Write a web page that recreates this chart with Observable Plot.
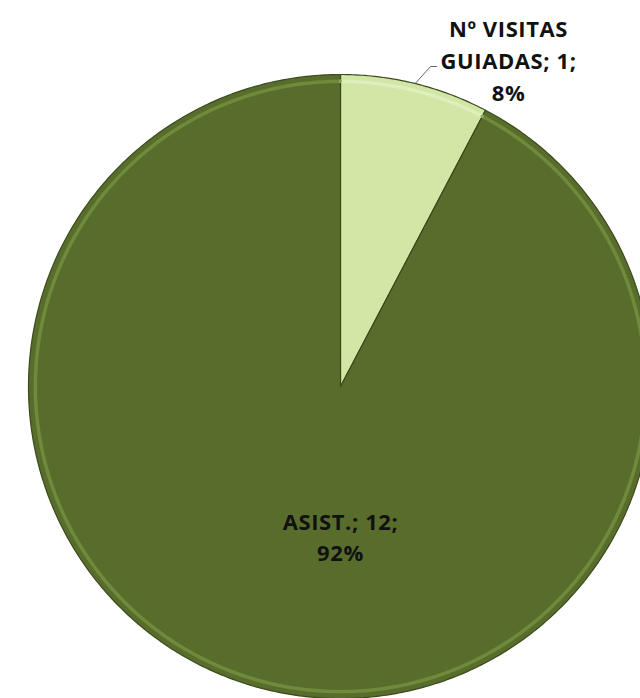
<!DOCTYPE html>
<html>
<head>
<meta charset="utf-8">
<script src="https://cdn.jsdelivr.net/npm/d3@7"></script>
<script src="https://cdn.jsdelivr.net/npm/@observablehq/plot@0.6"></script>
<style>
  html, body { margin: 0; padding: 0; background: #ffffff; }
  #chart { width: 640px; height: 698px; overflow: hidden; }
  #chart svg text { letter-spacing: 0.6px; }
</style>
</head>
<body>
<div id="chart"></div>
<script>
// ---- data ----
const categories = ["Nº VISITAS GUIADAS", "ASIST."];
const values = [1, 12];
const labelLines = [["Nº VISITAS", "GUIADAS; 1;", "8%"], ["ASIST.; 12;", "92%"]];
const colors = ["#d2e6a6", "#586d2c"];

// ---- layout ----
const W = 640, H = 698;
const cx = 340, cy = 386, R = 312;

const pie = d3.pie().sort(null).value(d => d)(values);

// polygon vertices of each slice in unit coordinates (angle from 12 o'clock, clockwise)
const polys = [];
pie.forEach((p, i) => {
  const n = Math.max(8, Math.ceil((p.endAngle - p.startAngle) / 0.01));
  polys.push({slice: i, k: 0, x: 0, y: 0});
  for (let j = 0; j <= n; j++) {
    const a = p.startAngle + (p.endAngle - p.startAngle) * j / n;
    polys.push({slice: i, k: j + 1, x: Math.sin(a), y: Math.cos(a)});
  }
  polys.push({slice: i, k: n + 2, x: 0, y: 0});
});

// outer rim highlight (bevel) for each slice
const rims = [];
pie.forEach((p, i) => {
  const n = Math.max(8, Math.ceil((p.endAngle - p.startAngle) / 0.01));
  for (let j = 0; j <= n; j++) {
    const a = p.startAngle + (p.endAngle - p.startAngle) * j / n;
    rims.push({slice: i, x: 0.978 * Math.sin(a), y: 0.978 * Math.cos(a)});
  }
});

// label anchors
const mid0 = (pie[0].startAngle + pie[0].endAngle) / 2;
const leader = [
  {x: Math.sin(mid0), y: Math.cos(mid0)},
  {x: (430 - cx) / R, y: (cy - 66) / R},
  {x: (436 - cx) / R, y: (cy - 66) / R}
];
const outerLabel = labelLines[0].map((t, j) => ({text: t, x: (508 - cx) / R, y: (cy - 29 - j * 32) / R}));
const innerLabel = labelLines[1].map((t, j) => ({text: t, x: 0, y: (cy - 522 - j * 31) / R}));

const font = "'Open Sans', sans-serif";

const plot = Plot.plot({
  width: W,
  height: H,
  margin: 0,
  x: {domain: [-cx / R, (W - cx) / R], axis: null},
  y: {domain: [-(H - cy) / R, cy / R], axis: null},
  style: {background: "transparent"},
  marks: [
    Plot.line(polys, {
      x: "x", y: "y", z: "slice",
      fill: d => colors[d.slice],
      stroke: "#3b4a1c", strokeWidth: 1.2, curve: "linear"
    }),
    Plot.line(rims, {
      x: "x", y: "y", z: "slice",
      stroke: d => d.slice === 0 ? "#e4f2c4" : "#7a9642",
      strokeWidth: 3.5, strokeOpacity: 0.7
    }),
    Plot.line(leader, {x: "x", y: "y", stroke: "#666", strokeWidth: 1}),
    Plot.text(outerLabel, {
      x: "x", y: "y", text: "text",
      fontSize: 22, fontWeight: "bold", fill: "#111",
      fontFamily: font
    }),
    Plot.text(innerLabel, {
      x: "x", y: "y", text: "text",
      fontSize: 22, fontWeight: "bold", fill: "#111",
      fontFamily: font
    })
  ]
});
document.getElementById("chart").appendChild(plot);
</script>
</body>
</html>
